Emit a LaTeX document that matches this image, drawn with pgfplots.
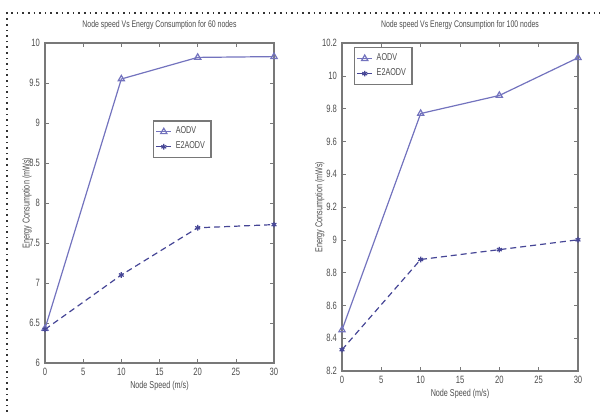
\documentclass[border=0pt]{standalone}
\usepackage{fontspec}
\setmainfont{Liberation Sans}
\newfontfamily\narrow[FakeStretch=0.72]{Liberation Sans}
\usepackage{pgfplots}
\pgfplotsset{compat=1.18}
\definecolor{aodv}{RGB}{115,115,190}
\definecolor{eaodv}{RGB}{70,70,150}
\definecolor{axgray}{RGB}{120,120,120}
\pgfplotsset{
  mstyle/.style={
    scale only axis,
    axis line style={axgray, line width=0.8pt},
    tick style={axgray},
    tick align=inside,
    major tick length=2pt,
    xmin=0, xmax=30, xtick={0,5,...,30},
    ticklabel style={font=\narrow\fontsize{5.3}{6}\selectfont, text=black!70},
    label style={font=\narrow\fontsize{5}{6}\selectfont, text=black!70},
    title style={font=\narrow\fontsize{4.8}{6}\selectfont, text=black!70, yshift=-3pt},
    /pgf/number format/assume math mode=true,
    xticklabel style={yshift=1pt},
    yticklabel style={xshift=1pt},
    xlabel={Node Speed (m/s)},
    ylabel={Energy Consumption (mWs)},
    xlabel style={yshift=4pt},
    ylabel style={yshift=-8pt},
    legend style={font=\narrow\fontsize{5}{6}\selectfont, text=black!70, draw=axgray, line width=0.7pt, inner sep=1pt, row sep=-1.5pt},
    legend cell align=left,
    legend image code/.code={
      \draw[mark repeat=2,mark phase=2] plot coordinates {(0cm,0cm) (0.13cm,0cm) (0.26cm,0cm)};},
  },
  aodvline/.style={aodv, line width=0.6pt, mark=triangle, mark size=1.8pt, mark options={solid}},
  eaodvline/.style={eaodv, line width=0.6pt, dashed, dash pattern=on 3pt off 2pt, mark=asterisk, mark size=1.4pt, mark options={solid}},
}
\begin{document}
\begin{tikzpicture}[x=0.5pt,y=0.5pt]
\useasboundingbox (0,0) rectangle (600,412);
\draw[black!80, line width=0.8pt, dotted] (7,0) -- (7,399) -- (600,399);
\begin{axis}[mstyle,
  at={(22.5pt,24.5pt)}, anchor=south west,
  width=114.5pt, height=160pt,
  ymin=6, ymax=10, ytick={6,6.5,...,10},
  yticklabel style={/pgf/number format/fixed},
  title={Node speed Vs Energy Consumption for 60 nodes},
  legend style={at={(0.472,0.759)}, anchor=north west},
]
\addplot[aodvline] coordinates {(0,6.43) (10,9.55) (20,9.82) (30,9.83)};
\addplot[eaodvline] coordinates {(0,6.42) (10,7.10) (20,7.69) (30,7.73)};
\legend{AODV, E2AODV}
\end{axis}
\begin{axis}[mstyle,
  at={(171pt,20.5pt)}, anchor=south west,
  width=118pt, height=164pt,
  ymin=8.2, ymax=10.2, ytick={8.2,8.4,...,10.2},
  yticklabel style={/pgf/number format/fixed, /pgf/number format/precision=1},
  title={Node speed Vs Energy Consumption for 100 nodes},
  legend style={at={(0.051,0.988)}, anchor=north west},
]
\addplot[aodvline] coordinates {(0,8.45) (10,9.77) (20,9.88) (30,10.11)};
\addplot[eaodvline] coordinates {(0,8.33) (10,8.88) (20,8.94) (30,9.00)};
\legend{AODV, E2AODV}
\end{axis}
\end{tikzpicture}
\end{document}
